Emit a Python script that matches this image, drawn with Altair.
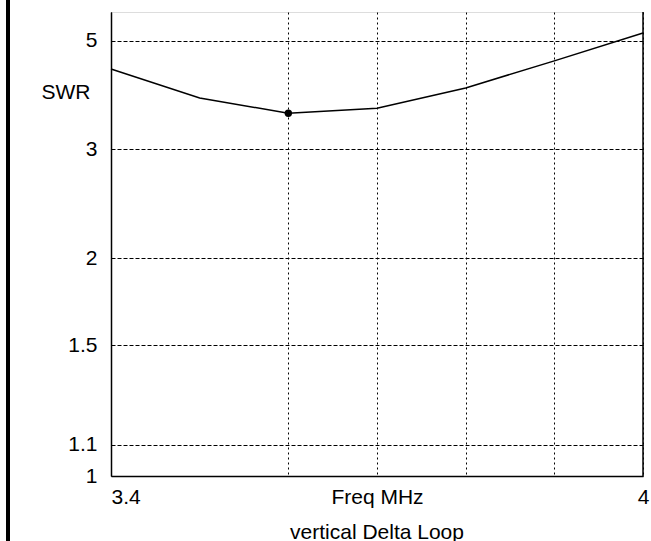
import altair as alt
import pandas as pd

freq = [3.4, 3.5, 3.6, 3.7, 3.8, 3.9, 4.0]
swr = [4.31, 3.75, 3.50, 3.58, 3.93, 4.49, 5.22]
min_freq = [3.6]
min_swr = [3.50]

y_tick_labels = [1, 1.1, 1.5, 2, 3, 5]
x_grid_ticks = [3.4, 3.6, 3.7, 3.8, 3.9, 4.0]
swr_top = 5.91

def rho(s):
    return (s - 1) / (s + 1)

y_tick_values = [rho(s) for s in y_tick_labels]

df = pd.DataFrame({"freq": freq, "swr": swr})
dmin = pd.DataFrame({"freq": min_freq, "swr": min_swr})

FONT = "Liberation Sans"
FS = 21
W, H = 532, 464

xscale = alt.Scale(domain=[3.4, 4.0], nice=False, zero=False)
yscale = alt.Scale(domain=[0, rho(swr_top)], nice=False, zero=False)

xaxis = alt.Axis(
    values=x_grid_ticks,
    labelExpr="(datum.value < 3.45 || datum.value > 3.95) ? format(datum.value, '~g') : ''",
    labelAlign={"condition": {"test": "datum.value < 3.45", "value": "left"}, "value": "center"},
    labelOverlap=False,
    ticks=False,
    labelPadding=10,
    labelFont=FONT, labelFontSize=FS, labelColor="black",
    grid=True, gridColor="black", gridDash=[2, 3], gridWidth=1, gridOpacity=1,
    domain=True, domainColor="black", domainWidth=1.5,
    title="Freq MHz", titleFont=FONT, titleFontSize=FS, titleFontWeight="normal",
    titleColor="black", titleY=27, titleBaseline="alphabetic",
)
yaxis = alt.Axis(
    values=y_tick_values,
    labelExpr="format((1 + datum.value) / (1 - datum.value), '.2~f')",
    ticks=False,
    labelPadding=14,
    labelFont=FONT, labelFontSize=FS, labelColor="black",
    grid=True, gridColor="black", gridDash=[4, 2], gridWidth=1, gridOpacity=1,
    domain=True, domainColor="black", domainWidth=1.5,
    title="SWR", titleFont=FONT, titleFontSize=FS, titleFontWeight="normal",
    titleColor="black", titleAngle=0, titleAlign="right", titleBaseline="middle",
    titleX=-21, titleY=80,
)

base = alt.Chart(df).transform_calculate(rho="(datum.swr - 1) / (datum.swr + 1)")

line = base.mark_line(color="black", strokeWidth=1.5).encode(
    x=alt.X("freq:Q", scale=xscale, axis=xaxis),
    y=alt.Y("rho:Q", scale=yscale, axis=yaxis),
)

dot = alt.Chart(dmin).transform_calculate(rho="(datum.swr - 1) / (datum.swr + 1)").mark_point(
    filled=True, color="black", size=55, opacity=1
).encode(
    x=alt.X("freq:Q", scale=xscale),
    y=alt.Y("rho:Q", scale=yscale),
)

one = alt.Data(values=[{"k": 1}])
right_line = alt.Chart(one).mark_rule(color="black", strokeWidth=1.5).encode(
    x=alt.value(W), y=alt.value(0), y2=alt.value(H)
)
left_border = alt.Chart(one).mark_rule(color="black", strokeWidth=4).encode(
    x=alt.value(-103), y=alt.value(-12), y2=alt.value(529)
)

chart = alt.layer(line, dot, right_line, left_border).properties(
    width=W, height=H,
    title=alt.TitleParams(
        "vertical Delta Loop", orient="bottom", anchor="middle", baseline="alphabetic",
        font=FONT, fontSize=FS, fontWeight="normal", color="black", offset=-4,
    ),
    autosize=alt.AutoSizeParams(type="none"),
    padding={"left": 111, "top": 12, "right": 8, "bottom": 65},
).configure_view(stroke=None).configure(background="white")

chart.save("out.html", embed_options={"renderer": "svg", "actions": False})
